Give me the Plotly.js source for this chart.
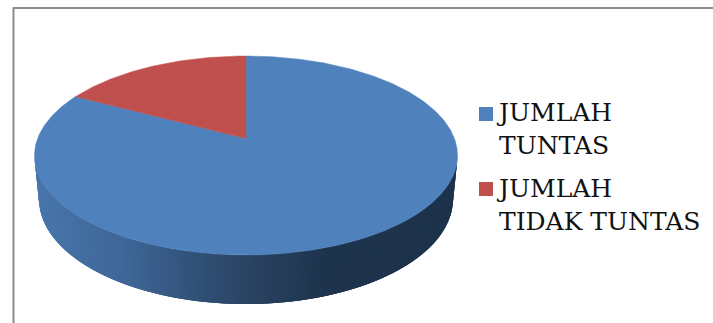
<!DOCTYPE html>
<html>
<head>
<meta charset="utf-8">
<script src="https://cdn.plot.ly/plotly-3.0.1.min.js"></script>
<style>html,body{margin:0;padding:0;background:#fff;}</style>
</head>
<body>
<div id="chart" style="width:713px;height:323px;"></div>
<script>
// Number of students per outcome
const categories = ['JUMLAH<br>TUNTAS', 'JUMLAH<br>TIDAK TUNTAS'];
const values = [24, 5];
const sliceColors = ['#4f81bd', '#c0504d'];

// Side wall shading, left to right: [x, r, g, b]
const wallStops = [[36,72,118,172],[130,62,101,150],[200,48,80,118],[250,42,68,99],[330,30,51,76],[458,29,50,75]];

// Tilted disc: apex of the wedges and the projected top face
const apex = {x: 246, y: 138.5};
const topFace = {cx: 246, cy: 155.5, rx: 211.5, ry: 99.5};
const baseFace = {cx: 246, cy: 199, rx: 207, ry: 105};
const persp = 0.171, vScale = 96.6, uScale = 208.4;

// Angle clockwise from twelve o'clock to a point on the tilted rim
function rim(t) {
  const u = Math.sin(t), v = Math.cos(t), w = 1 + persp * v;
  return [apex.x + uScale * u / w, apex.y - vScale * v / w];
}

function wedge(from, to) {
  const xs = [apex.x], ys = [apex.y];
  const n = Math.max(2, Math.ceil((to - from) / 0.01));
  for (let i = 0; i <= n; i++) {
    const p = rim(from + (to - from) * i / n);
    xs.push(p[0]); ys.push(p[1]);
  }
  xs.push(apex.x); ys.push(apex.y);
  return {xs, ys};
}

function wallColor(x) {
  for (let i = 1; i < wallStops.length; i++) {
    const a = wallStops[i - 1], b = wallStops[i];
    if (x <= b[0]) {
      const f = Math.max(0, (x - a[0]) / (b[0] - a[0]));
      const c = [1, 2, 3].map(k => Math.round(a[k] + (b[k] - a[k]) * f));
      return `rgb(${c[0]},${c[1]},${c[2]})`;
    }
  }
  const l = wallStops[wallStops.length - 1];
  return `rgb(${l[1]},${l[2]},${l[3]})`;
}

const onEllipse = (e, a) => [e.cx + e.rx * Math.cos(a), e.cy + e.ry * Math.sin(a)];

const traces = [];

// Side wall: painted right to left, each quad running under the next so no seams show
const wallSteps = 150;
for (let i = 0; i < wallSteps; i++) {
  const a0 = Math.PI * i / wallSteps;
  const a1 = Math.PI * Math.min(i + 3, wallSteps) / wallSteps;
  const p = [onEllipse(topFace, a0), onEllipse(topFace, a1), onEllipse(baseFace, a1), onEllipse(baseFace, a0)];
  traces.push({
    type: 'scatter', mode: 'lines', fill: 'toself', fillcolor: wallColor(p[0][0]),
    x: p.map(q => q[0]).concat(p[0][0]), y: p.map(q => q[1]).concat(p[0][1]),
    line: {width: 0}, hoverinfo: 'skip', showlegend: false
  });
}

// Top face: one wedge per category, clockwise from twelve o'clock
const total = values.reduce((s, v) => s + v, 0);
let start = 0;
values.forEach((v, i) => {
  const end = start + v / total * 2 * Math.PI;
  const w = wedge(start, end);
  traces.push({
    type: 'scatter', mode: 'lines', fill: 'toself', fillcolor: sliceColors[i],
    x: w.xs, y: w.ys, line: {color: sliceColors[i], width: 0.5},
    name: categories[i].replace('<br>', ' '), hoverinfo: 'name', showlegend: false
  });
  start = end;
});

// Key: square swatches beside two-line labels
const keyX = 486, keyY = [114, 189], keyTextX = 495, keyTextY = [97, 173];
traces.push({
  type: 'scatter', mode: 'markers', x: keyY.map(() => keyX), y: keyY,
  marker: {symbol: 'square', size: 14, color: sliceColors, line: {width: 0}},
  hoverinfo: 'skip', showlegend: false
});

const layout = {
  width: 713, height: 323,
  margin: {l: 0, r: 0, t: 0, b: 0},
  paper_bgcolor: '#ffffff', plot_bgcolor: '#ffffff',
  showlegend: false,
  xaxis: {range: [0, 713], visible: false, fixedrange: true},
  yaxis: {range: [323, 0], visible: false, fixedrange: true},
  annotations: categories.map((c, i) => ({
    text: c, x: keyTextX, y: keyTextY[i], xref: 'x', yref: 'y',
    xanchor: 'left', yanchor: 'top', align: 'left', showarrow: false,
    borderpad: 0, font: {family: '"DejaVu Serif", serif', size: 25, color: '#111111'}
  })),
  shapes: [
    {type: 'line', xref: 'x', yref: 'y', x0: 13.5, x1: 13.5, y0: 7.5, y1: 323, line: {color: '#8c8c8c', width: 2}},
    {type: 'line', xref: 'x', yref: 'y', x0: 13, x1: 713, y0: 8, y1: 8, line: {color: '#8c8c8c', width: 2}}
  ]
};

Plotly.newPlot('chart', traces, layout, {displayModeBar: false});
</script>
</body>
</html>
